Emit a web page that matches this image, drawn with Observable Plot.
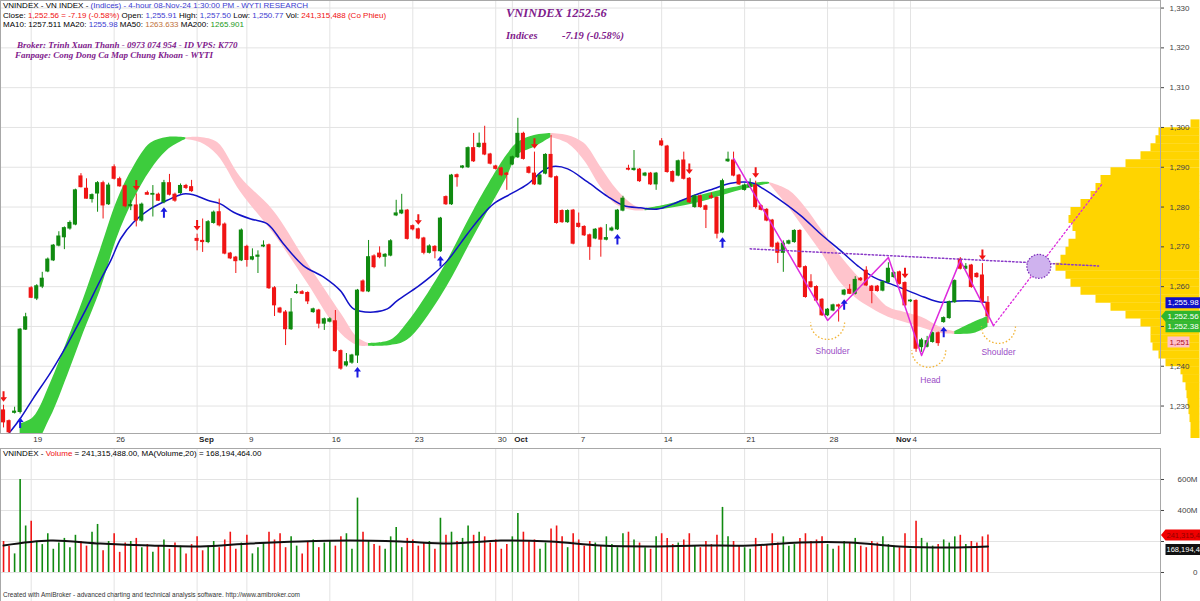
<!DOCTYPE html>
<html><head><meta charset="utf-8">
<script src="https://cdn.jsdelivr.net/npm/d3@7"></script>
<script src="https://cdn.jsdelivr.net/npm/@observablehq/plot@0.6"></script>
<style>
html,body{margin:0;padding:0;background:#fff;}
#wrap{position:relative;width:1200px;height:601px;overflow:hidden;font-family:"Liberation Sans",Arial,sans-serif;}
#price,#vol{position:absolute;left:0;}
#price{top:0;} #vol{top:448px;}
.t{position:absolute;white-space:pre;line-height:1;}
.hd{font-size:8px;color:#000;left:3px;}
.bl{color:#3b3bd0}.rd{color:#f01010}.br{color:#c0703a}.gr{color:#1a9a1a}
.pp{font-family:"Liberation Serif","Times New Roman",serif;font-weight:bold;font-style:italic;color:#80208c;}
</style></head><body><div id="wrap">
<div id="price"></div><div id="vol"></div>
<div class="t hd" style="top:2px">VNINDEX - VN INDEX - <span class="bl">(Indices) - 4-hour 08-Nov-24 1:30:00 PM - WYTI RESEARCH</span></div>
<div class="t hd" style="top:11.5px">Close: <span class="rd">1,252.56 = -7.19 (-0.58%)</span> Open: <span class="bl">1,255.91</span> High: <span class="bl">1,257.50</span> Low: <span class="bl">1,250.77</span> Vol: <span class="rd">241,315,488 (Co Phieu)</span></div>
<div class="t hd" style="top:21px">MA10: 1257.511 MA20: <span class="bl">1255.98</span> MA50: <span class="br">1263.633</span> MA200: <span class="gr">1265.901</span></div>
<div class="t pp" style="left:17px;top:41px;font-size:9px">Broker: Trinh Xuan Thanh - 0973 074 954 - ID VPS: K770</div>
<div class="t pp" style="left:15px;top:51px;font-size:9px">Fanpage: Cong Dong Ca Map Chung Khoan - WYTI</div>
<div class="t pp" style="left:506px;top:7px;font-size:12.5px">VNINDEX 1252.56</div>
<div class="t pp" style="left:506px;top:31px;font-size:10.5px">Indices</div>
<div class="t pp" style="left:562px;top:31px;font-size:10.5px">-7.19 (-0.58%)</div>
<div class="t hd" style="top:450px">VNINDEX - <span class="rd">Volume</span> = 241,315,488.00, MA(Volume,20) = 168,194,464.00</div>
<div class="t" style="left:3px;top:592px;font-size:6.5px;color:#333">Created with AmiBroker - advanced charting and technical analysis software. http://www.amibroker.com</div>
</div>
<script>
// ---------------- DATA ----------------
const barOpen = [1228.9,1226.2,1228.3,1228.5,1249.2,1259.6,1257.0,1260.0,1263.8,1266.6,1270.3,1272.4,1274.6,1275.6,1287.7,1284.6,1282.0,1283.4,1286.0,1280.7,
1290.0,1287.0,1285.2,1280.2,1280.4,1276.6,1283.5,1283.1,1283.1,1281.2,1286.0,1283.1,1283.5,1285.3,1285.0,1272.0,1271.5,1271.2,1276.0,1278.7,
1275.6,1268.3,1267.3,1266.6,1270.0,1266.8,1267.5,1270.1,1270.4,1259.6,1254.5,1253.5,1249.3,1258.4,1258.6,1258.4,1253.6,1254.0,1250.7,1251.2,
1251.3,1243.8,1240.2,1240.9,1242.7,1261.3,1258.8,1267.6,1268.3,1267.5,1267.8,1277.9,1278.4,1279.1,1275.2,1274.4,1272.1,1268.5,1270.0,1268.9,
1282.5,1280.7,1288.0,1289.9,1290.0,1294.8,1295.1,1295.9,1293.2,1290.2,1289.7,1288.4,1290.7,1292.5,1298.4,1289.9,1288.4,1285.7,1288.4,1293.1,
1287.5,1279.0,1276.2,1279.1,1275.8,1275.0,1272.9,1272.1,1274.6,1271.8,1274.1,1274.4,1279.1,1289.6,1289.3,1289.4,1287.9,1288.4,1285.7,1296.5,
1295.2,1288.8,1287.9,1291.7,1287.1,1280.0,1282.7,1280.2,1282.7,1282.3,1273.6,1291.5,1291.7,1287.9,1284.3,1285.0,1285.4,1280.2,1279.3,1276.6,
1270.8,1268.5,1270.8,1271.2,1274.0,1264.9,1261.1,1259.9,1256.7,1252.8,1254.0,1255.3,1258.0,1259.2,1258.2,1262.0,1264.0,1260.0,1260.0,1259.0,
1261.1,1262.4,1263.6,1260.9,1256.3,1256.4,1244.8,1244.9,1246.1,1248.3,1251.1,1252.1,1256.1,1266.8,1264.5,1265.3,1263.2,1262.8,1255.91];
const barHigh = [1230.2,1226.5,1229.7,1249.5,1253.3,1260.0,1260.5,1263.6,1267.2,1270.6,1273.8,1275.0,1276.5,1284.5,1288.4,1287.1,1283.3,1286.4,1286.5,1286.0,
1290.6,1287.5,1285.5,1281.7,1283.3,1281.0,1284.0,1285.4,1283.5,1286.7,1288.2,1283.5,1285.8,1285.7,1286.7,1273.2,1277.0,1276.6,1279.0,1282.0,
1276.0,1268.6,1267.6,1274.5,1270.4,1269.5,1269.0,1271.5,1270.7,1260.0,1254.8,1254.0,1257.0,1260.5,1259.0,1258.7,1254.6,1254.3,1252.1,1252.2,
1254.0,1244.1,1243.2,1243.0,1259.3,1261.7,1271.6,1268.0,1270.0,1268.3,1271.8,1281.7,1283.2,1279.4,1275.5,1274.7,1272.4,1270.5,1270.3,1277.4,
1282.8,1288.2,1288.3,1290.4,1295.1,1298.5,1298.6,1300.3,1293.5,1290.5,1290.0,1288.7,1292.8,1302.3,1298.8,1290.2,1293.8,1288.2,1293.4,1298.0,
1287.8,1279.3,1279.3,1279.4,1278.5,1275.3,1273.2,1274.6,1274.9,1275.6,1275.0,1279.4,1282.7,1290.5,1294.2,1289.7,1288.7,1288.7,1288.7,1297.2,
1295.5,1289.1,1291.8,1293.8,1287.4,1283.0,1283.0,1280.5,1283.5,1282.6,1287.0,1293.8,1293.8,1288.2,1285.8,1287.1,1286.5,1280.5,1279.6,1276.9,
1271.2,1271.5,1271.7,1274.3,1274.3,1265.2,1263.0,1260.2,1257.0,1254.5,1255.6,1255.6,1259.3,1260.5,1262.5,1262.3,1265.0,1260.3,1260.3,1261.4,
1266.0,1263.7,1263.9,1261.2,1256.7,1256.7,1247.0,1247.5,1248.6,1248.6,1252.4,1256.4,1261.7,1267.3,1265.8,1265.6,1263.5,1265.8,1257.5];
const barLow = [1224.5,1223.0,1228.0,1228.0,1249.0,1257.0,1256.5,1259.5,1263.5,1266.3,1270.0,1269.3,1274.2,1275.3,1284.8,1282.0,1281.0,1278.7,1277.0,1280.4,
1286.8,1285.0,1279.8,1279.1,1275.0,1276.2,1283.0,1277.5,1281.4,1280.8,1282.8,1281.2,1283.2,1284.4,1283.7,1269.0,1268.6,1270.8,1275.7,1275.0,
1268.0,1266.8,1263.3,1266.3,1264.9,1266.5,1263.3,1269.8,1259.3,1252.5,1253.2,1245.2,1249.0,1258.1,1258.0,1255.5,1253.3,1249.4,1249.0,1250.9,
1243.5,1239.0,1239.8,1240.5,1240.7,1258.5,1258.5,1264.5,1267.0,1264.9,1267.5,1277.6,1278.1,1271.7,1274.0,1271.8,1268.0,1268.2,1267.0,1268.6,
1280.4,1280.4,1285.0,1289.6,1289.7,1291.2,1294.8,1292.9,1290.6,1289.3,1287.6,1284.2,1290.4,1292.2,1291.8,1288.3,1285.4,1285.4,1288.1,1287.2,
1275.7,1275.9,1275.9,1270.5,1274.7,1272.6,1266.6,1271.8,1267.4,1271.5,1273.8,1274.1,1278.8,1289.1,1289.0,1286.2,1287.6,1285.4,1284.2,1295.2,
1288.5,1286.1,1287.6,1286.8,1280.9,1279.7,1279.7,1274.6,1282.0,1272.0,1273.3,1291.2,1287.6,1285.4,1284.0,1284.7,1279.5,1279.0,1276.3,1269.7,
1265.8,1263.6,1270.5,1270.9,1264.6,1257.1,1259.6,1256.2,1252.5,1252.5,1253.7,1251.1,1257.7,1258.0,1257.9,1261.3,1260.0,1255.7,1258.6,1258.7,
1260.8,1262.1,1260.4,1255.0,1256.0,1243.5,1243.5,1244.6,1245.8,1245.0,1250.8,1251.8,1255.8,1264.2,1264.2,1259.6,1262.1,1255.8,1250.77];
const barClose = [1225.9,1223.4,1228.6,1249.2,1252.3,1257.2,1260.1,1262.0,1266.8,1270.3,1272.6,1274.7,1276.0,1284.2,1285.0,1282.1,1283.0,1286.0,1280.4,1285.4,
1287.1,1285.2,1280.2,1280.5,1276.6,1280.6,1283.1,1283.3,1281.6,1286.0,1283.1,1281.6,1285.3,1284.8,1284.0,1271.5,1271.2,1276.2,1278.6,1275.4,
1268.3,1267.1,1266.4,1274.1,1266.7,1267.4,1267.8,1270.3,1259.6,1255.3,1253.5,1249.3,1253.5,1258.6,1258.2,1256.3,1254.3,1250.7,1251.8,1251.8,
1243.8,1239.4,1241.0,1242.7,1259.0,1258.8,1267.4,1264.9,1267.4,1268.0,1271.4,1278.4,1279.1,1272.0,1274.4,1272.1,1268.5,1270.1,1268.9,1277.1,
1280.7,1287.9,1287.5,1290.2,1294.8,1291.5,1295.9,1293.2,1290.9,1289.6,1288.0,1288.1,1292.5,1298.4,1292.1,1288.6,1285.7,1287.9,1293.1,1287.5,
1276.0,1276.2,1279.0,1270.8,1275.0,1272.9,1270.0,1274.3,1271.8,1272.2,1274.6,1279.1,1282.1,1289.4,1289.6,1286.5,1288.4,1285.7,1288.4,1295.5,
1288.8,1286.4,1291.5,1287.1,1281.2,1282.7,1280.0,1279.3,1282.3,1273.3,1286.5,1291.9,1287.9,1285.7,1285.4,1285.8,1280.0,1279.3,1276.6,1270.0,
1268.5,1270.8,1271.4,1274.0,1264.9,1257.4,1259.9,1256.5,1252.8,1254.2,1255.3,1255.0,1259.0,1258.2,1261.7,1261.6,1260.3,1258.9,1258.9,1261.1,
1264.5,1263.4,1260.7,1255.3,1256.5,1244.4,1246.5,1246.3,1248.3,1245.8,1252.1,1256.1,1261.4,1264.5,1265.0,1259.9,1262.4,1256.1,1252.56];
// volume, millions of shares
const barVolume = [200,170,120,600,300,
330,200,180,250,150,190,220,160,240,200,170,260,310,140,200,
250,130,190,200,220,160,180,130,170,210,150,190,170,120,180,
230,140,170,200,160,210,260,150,190,
240,120,160,190,260,210,250,160,230,170,120,200,210,160,190,
200,170,230,250,150,480,260,200,180,170,150,230,290,160,220,
210,170,190,200,150,350,240,260,200,220,300,240,260,230,190,
210,150,180,
230,380,260,200,210,150,190,280,300,230,160,250,
210,170,200,190,170,230,180,160,250,260,210,190,160,150,230,
250,220,180,190,210,250,170,160,200,180,240,420,230,200,170,
160,150,220,170,180,250,190,230,170,180,220,250,200,210,230,
180,150,170,200,190,220,170,160,200,190,230,180,170,160,250,
150,330,220,190,170,180,210,190,230,240,180,200,190,230,241.3];

// date axis (bar index of the first bar of each week / month)
const weekTickBars   = [5, 20, 35, 44, 59, 74, 89, 92, 104, 119, 134, 149, 161, 164];
const weekTickLabels = ["19","26","Sep","9","16","23","30","Oct","7","14","21","28","Nov","4"];
const monthLabels = ["Sep","Oct","Nov"];
const priceTicks = [1230,1240,1250,1260,1270,1280,1290,1300,1310,1320,1330];
const priceTickLabelsHidden = [1250];          // covered by the value tags in the original
const volumeTicks = [0,200,400,600];
const volumeTickLabelsHidden = [200];

// MA20 (blue)
const ma20Bar = [1,3.1,5.4,8.5,11.6,14.5,17.5,19.4,21.2,23.5,26.6,29.6,32.5,34.3,36.9,39.2,41.6,44.7,47.7,50.6,54.2,57.9,60.9,63.3,66.9,69.4,71.2,74.9,77.8,80.3,83.9,86.3,88.6,91.7,94.7,97.6,99.4,102,105.6,109.2,112.1,115.2,118.3,121.1,124.8,128.4,131.5,135.6,136.9,140.5,144.1,147.7,151.3,154.4,157.3,160.4,163.5,166.4,169.4,172.5,175.4,178];
const ma20Val = [1223.2,1227,1232,1238.4,1245.7,1253.2,1261.6,1266.6,1272.1,1276.2,1279.6,1281.7,1283.3,1283.1,1281.7,1280.8,1278.7,1277.0,1275.8,1270.8,1265.3,1262.4,1259.0,1254.4,1253.6,1254.4,1256.5,1260.0,1263.2,1266.6,1273.3,1277.5,1280.8,1283.3,1285.7,1289.2,1290.2,1289.6,1286.3,1282.7,1280.4,1279.8,1279.5,1280.8,1282.9,1284.6,1286.0,1286.0,1285.0,1281.7,1277.9,1273.3,1269.1,1265.3,1262.4,1260.7,1259.0,1257.4,1256.1,1256.4,1256.4,1255.98];

// trend ribbon: upper / lower edge, segment (even = rising/green, odd = falling/pink)
const ribBar = [3,5.4,8.5,11.6,14.5,17.5,20.6,23.5,26.6,29.6,32.5,33,
 33,35.6,38.7,42.9,48.8,55,61,64,66,
 66,70,73,79,85,91,93,96,99,
 99,102,105,108,111,114,116,
 116,120,126,132,137,138.5,
 138.5,142,145,148,151,154,157,160,163,166,169.5,172,
 172,175.4,178];
const ribHi = [1225.5,1227.1,1235.7,1246.5,1257.0,1269.1,1281.7,1290.0,1296.0,1297.5,1297.5,1297.4,
 1297.4,1297.5,1296.2,1287.4,1279.1,1265.8,1253.3,1247.2,1245.7,
 1245.7,1246.5,1250.8,1263.3,1279.1,1293.0,1296.2,1298.0,1298.5,
 1298.5,1298.0,1296.0,1290.0,1284.2,1280.4,1279.6,
 1279.6,1280.6,1282.9,1284.9,1286.2,1286.2,
 1286.2,1284.2,1279.9,1274.1,1268.3,1263.3,1259.0,1254.8,1253.5,1252.3,1249.7,1248.7,
 1248.7,1251.0,1252.5];
const ribLo = [1221.0,1220.0,1227.1,1237.7,1248.5,1259.0,1272.4,1281.7,1289.2,1294.2,1296.7,1297.0,
 1297.0,1296.2,1293.0,1283.7,1273.4,1260.8,1248.2,1245.2,1245.0,
 1245.0,1245.2,1246.5,1257.3,1272.4,1287.4,1293.0,1295.0,1297.5,
 1297.5,1296.0,1291.7,1285.0,1280.4,1279.1,1279.1,
 1279.1,1279.6,1281.2,1283.7,1285.4,1285.8,
 1285.8,1279.9,1274.1,1268.3,1261.6,1257.3,1254.5,1252.3,1251.0,1249.7,1248.2,1248.0,
 1248.0,1248.2,1249.8];
const ribSeg = [0,0,0,0,0,0,0,0,0,0,0,0, 1,1,1,1,1,1,1,1,1, 2,2,2,2,2,2,2,2,2, 3,3,3,3,3,3,3, 4,4,4,4,4,4, 5,5,5,5,5,5,5,5,5,5,5,5, 6,6,6];

// head & shoulders drawing
const zigBar = [132,149,160,166,173,179];
const zigPrice = [1292.2,1251.5,1267.3,1242.7,1266.6,1250.2];
const projBar = [179,198.7];
const projPrice = [1250.2,1285.9];
const neckBar = [135,198];
const neckPrice = [1269.5,1265.2];
const targetBar = [187.2];
const targetPrice = [1265.1];
const arcBar = [149,167.3,179.9];
const arcPrice = [1251,1244,1250];
const hsLabels = ["Shoulder","Head","Shoulder"];
const hsBar = [149.9,167.6,179.9];
const hsPrice = [1243.7,1236.4,1243.5];

// buy / sell arrows (bar indices)
const upArrowBars = [3,29,64,79,111,130,152,170];
const downArrowBars = [0,24,35,75,96,124,136,163,177];

// volume MA(20) (millions)
const volMaBar = [0,8.5,17.5,26.6,35.6,44.7,53.7,62.7,71.8,80.8,89.9,98.9,107.9,117,126,135,144,153,162,171,178];
const volMaVal = [174,206,187,174,168,187,200,206,200,187,206,200,174,168,174,174,194,194,168,161,168.2];

// volume-by-price profile (relative volume per 2-point bin)
const profilePrice = [1301,1299,1297,1295,1293,1291,1289,1287,1285,1283,1281,1279,1277,1275,1273,1271,1269,1267,1265,1263,1261,1259,1257,1255,1253,1251,1249,1247,1245,1243,1241,1239,1237,1235,1233,1231,1229,1227,1225,1223];
const profileVolume = [4.5,20.5,22,24.5,29.5,37,44.5,49.5,52,54.5,59.5,64.5,65.5,63.5,62,65.5,67,69.5,72,67,64.5,59.5,52,44.5,37,29.5,24.5,24.5,23.5,20.5,17,9.5,8.5,7,6.5,6,5.5,5,4.5,4.5];

// value tags on the axes
const priceTagValues = [1255.98,1252.56,1252.38,1251];
const priceTagLabels = ["1,255.98","1,252.56","1,252.38","1,251"];
const volTagValues = [241.3155,168.1945];
const volTagLabels = ["241,315,488","168,194,464"];

// ---------------- BUILD ----------------
const GREEN = "#108a10", RED = "#f01414";
const bars = barOpen.map((o, i) => {
  const c = barClose[i];
  return {i, o, h: barHigh[i], l: barLow[i], c, v: barVolume[i],
    lo: Math.min(o, c), hi: Math.max(o, c), col: c >= o ? GREEN : RED};
});
const ribColors = ["#3dcc3d", "#ffc4cc"];
const rib = ribBar.map((b, k) => ({bar: b, hi: ribHi[k], lo: ribLo[k], seg: ribSeg[k], col: ribColors[ribSeg[k] % 2]}));
const ma20 = ma20Bar.map((b, k) => ({bar: b, v: ma20Val[k]}));
const zig = zigBar.map((b, k) => ({bar: b, p: zigPrice[k]}));
const proj = projBar.map((b, k) => ({bar: b, p: projPrice[k]}));
const neck = neckBar.map((b, k) => ({bar: b, p: neckPrice[k]}));
const target = targetBar.map((b, k) => ({bar: b, p: targetPrice[k]}));
const arcs = arcBar.map((b, k) => ({bar: b, p: arcPrice[k]}));
const hs = hsLabels.map((t, k) => ({t, bar: hsBar[k], p: hsPrice[k]}));
const ups = upArrowBars.map(i => bars[i]);
const downs = downArrowBars.map(i => bars[i]);
const volMa = volMaBar.map((b, k) => ({bar: b, v: volMaVal[k]}));
const profile = profilePrice.map((p, k) => ({p, v: profileVolume[k]}));
const ticks = weekTickBars.map((b, k) => ({b, t: weekTickLabels[k], bold: monthLabels.includes(weekTickLabels[k])}));
const fmtComma = d3.format(",");

// custom symbols
const profileSym = {draw(ctx, size) { const L = Math.sqrt(size / Math.PI); ctx.rect(39 - L, -4.1, L, 8.2); }};
const arcSym = {draw(ctx, size) { const R = Math.sqrt(size / Math.PI); ctx.moveTo(R, 0); ctx.arc(0, 0, R, 0, Math.PI); }};
const upSym = {draw(ctx) { ctx.moveTo(0,-5.5); ctx.lineTo(3.5,-1); ctx.lineTo(1,-1); ctx.lineTo(1,5); ctx.lineTo(-1,5); ctx.lineTo(-1,-1); ctx.lineTo(-3.5,-1); ctx.closePath(); }};
const downSym = {draw(ctx) { ctx.moveTo(0,5.5); ctx.lineTo(3.5,1); ctx.lineTo(1,1); ctx.lineTo(1,-5); ctx.lineTo(-1,-5); ctx.lineTo(-1,1); ctx.lineTo(-3.5,1); ctx.closePath(); }};
const tagSym = (x0, x1, arrow) => ({draw(ctx) {
  if (arrow) { ctx.moveTo(0.5, 0); ctx.lineTo(x0, -5.5); } else ctx.moveTo(x0, -5.5);
  ctx.lineTo(x1, -5.5); ctx.lineTo(x1, 5.5); ctx.lineTo(x0, 5.5);
  if (arrow) ctx.lineTo(0.5, 0); ctx.closePath(); }});

const priceTagStyle = [
  {bg: "#1010c8", fg: "#fff", dy: 0, dx: 7, sym: tagSym(5, 40, false)},
  {bg: "#2fb52f", fg: "#fff", dy: 0, dx: 7, sym: tagSym(5, 40, true)},
  {bg: "#33b833", fg: "#fff", dy: 9.7, dx: 7, sym: tagSym(5, 40, false)},
  {bg: "#ffc0cb", fg: "#b01020", dy: 19.5, dx: 9, sym: tagSym(7, 29, false)}
];
const volTagStyle = [
  {bg: "#f00000", fg: "#900000", dy: 0, sym: tagSym(5, 40, true)},
  {bg: "#111111", fg: "#ffffff", dy: 3, sym: tagSym(5, 40, false)}
];

const xOpt = {domain: [-0.55, 209.2], range: [0, 1160], axis: null};
const font = "Liberation Sans, Arial, sans-serif";
const gridCol = "#e3e3e3";

const priceTagMarks = priceTagValues.flatMap((v, k) => {
  const s = priceTagStyle[k];
  const d = [{v, t: priceTagLabels[k]}];
  return [Plot.dot(d, {y: "v", frameAnchor: "right", symbol: s.sym, fill: s.bg, dy: s.dy}),
          Plot.text(d, {y: "v", text: "t", frameAnchor: "right", dx: s.dx, dy: s.dy, textAnchor: "start", fill: s.fg, fontSize: 8})];
});

const pricePlot = Plot.plot({
  width: 1200, height: 448, marginLeft: 0, marginRight: 40, marginTop: 0, marginBottom: 15,
  style: {background: "transparent", fontFamily: font, fontSize: "8px"},
  x: xOpt,
  y: {domain: [1223.1, 1331.9], range: [433, 0], axis: null},
  color: {type: "identity"},
  r: {type: "linear", domain: [0, 100], range: [0, 200]},
  marks: [
    Plot.gridY(priceTicks, {stroke: gridCol, strokeOpacity: 1}),
    Plot.gridX(weekTickBars, {stroke: gridCol, strokeOpacity: 1}),
    Plot.dot(profile, {y: "p", r: "v", symbol: profileSym, frameAnchor: "right", fill: "#ffd400"}),
    Plot.areaY(rib, {x: "bar", y1: "lo", y2: "hi", z: "seg", fill: "col", curve: "catmull-rom", clip: true}),
    Plot.line(ma20, {x: "bar", y: "v", stroke: "#1212c8", strokeWidth: 1.5, curve: "catmull-rom", clip: true}),
    Plot.ruleX(bars, {x: "i", y1: "l", y2: "h", stroke: "col", strokeWidth: 1}),
    Plot.rect(bars, {x1: d => d.i - 0.37, x2: d => d.i + 0.37, y1: "lo", y2: "hi", fill: "col", insetTop: -0.5, insetBottom: -0.5}),
    Plot.line(neck, {x: "bar", y: "p", stroke: "#8a3ac8", strokeWidth: 1.5, strokeDasharray: "1.5,2.2"}),
    Plot.line(zig, {x: "bar", y: "p", stroke: "#dd2add", strokeWidth: 1.5}),
    Plot.line(proj, {x: "bar", y: "p", stroke: "#dd2add", strokeWidth: 1.3, strokeDasharray: "1.5,2.5"}),
    Plot.dot(target, {x: "bar", y: "p", r: 12, fill: "#cfb2ee", stroke: "#7a2ab8", strokeWidth: 1.2, strokeDasharray: "1.5,1.5"}),
    Plot.dot(arcs, {x: "bar", y: "p", r: 17, symbol: arcSym, fill: "none", stroke: "#f2b436", strokeWidth: 1.3, strokeDasharray: "1.5,2"}),
    Plot.text(hs, {x: "bar", y: "p", text: "t", fill: "#9a4cc6", fontSize: 8.5}),
    Plot.dot(ups, {x: "i", y: "l", dy: 9, symbol: upSym, fill: "#1a1ae0"}),
    Plot.dot(downs, {x: "i", y: "h", dy: -9, symbol: downSym, fill: "#f01414"}),
    Plot.frame({stroke: "#a8a8a8"}),
    Plot.axisY({anchor: "right", ticks: priceTicks, label: null, tickFormat: d => priceTickLabelsHidden.includes(d) ? "" : fmtComma(d), tickSize: 3, tickPadding: 26, textAnchor: "end", fontSize: 8, color: "#444"}),
    Plot.text(ticks.filter(d => !d.bold), {x: "b", text: "t", frameAnchor: "bottom", dy: 8, dx: 2, textAnchor: "start", fill: "#333", fontSize: 8}),
    Plot.text(ticks.filter(d => d.bold), {x: "b", text: "t", frameAnchor: "bottom", dy: 8, dx: 2, textAnchor: "start", fill: "#222", fontSize: 8, fontWeight: "bold"}),
    ...priceTagMarks
  ]
});
document.getElementById("price").append(pricePlot);

const volTagMarks = volTagValues.flatMap((v, k) => {
  const s = volTagStyle[k];
  const d = [{v, t: volTagLabels[k]}];
  return [Plot.dot(d, {y: "v", frameAnchor: "right", symbol: s.sym, fill: s.bg, dy: s.dy}),
          Plot.text(d, {y: "v", text: "t", frameAnchor: "right", dx: 6, dy: s.dy, textAnchor: "start", fill: s.fg, fontSize: 7.5})];
});

const volPlot = Plot.plot({
  width: 1200, height: 153, marginLeft: 0, marginRight: 40, marginTop: 0, marginBottom: 0,
  style: {background: "transparent", fontFamily: font, fontSize: "8px"},
  x: xOpt,
  y: {domain: [-187.1, 800], range: [153, 0], axis: null},
  color: {type: "identity"},
  marks: [
    Plot.gridY(volumeTicks, {stroke: gridCol, strokeOpacity: 1}),
    Plot.gridX(weekTickBars, {stroke: gridCol, strokeOpacity: 1}),
    Plot.ruleX(bars, {x: "i", y1: 0, y2: "v", stroke: "col", strokeWidth: 1.6}),
    Plot.line(volMa, {x: "bar", y: "v", stroke: "#111", strokeWidth: 2, curve: "catmull-rom"}),
    Plot.frame({stroke: "#a8a8a8"}),
    Plot.axisY({anchor: "right", ticks: volumeTicks, label: null, tickFormat: d => volumeTickLabelsHidden.includes(d) ? "" : (d ? d + "M" : "0"), tickSize: 3, tickPadding: 34, textAnchor: "end", fontSize: 8, color: "#444"}),
    ...volTagMarks
  ]
});
document.getElementById("vol").append(volPlot);
</script>
</body></html>
